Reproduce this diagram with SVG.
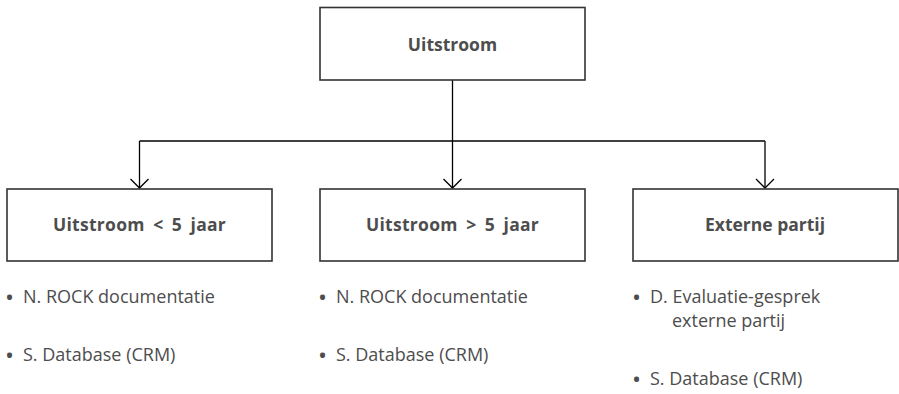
<svg xmlns="http://www.w3.org/2000/svg" width="899" height="394" viewBox="0 0 899 394">
<defs>
<style>
.box{fill:#fff;stroke:#333;stroke-width:1.6}
.lbl{font-family:"Open Sans","Liberation Sans",sans-serif;font-weight:bold;font-size:17.5px;fill:#4d4d4d;text-anchor:middle}
.ws{word-spacing:3.5px;letter-spacing:0.3px}
.itm{font-family:"Open Sans","Liberation Sans",sans-serif;font-size:18px;fill:#4d4d4d}
.bul{font-size:24px}
.con{fill:none;stroke:#000;stroke-width:1.3}
</style>
<marker id="arr" markerWidth="20" markerHeight="20" refX="10" refY="10" orient="auto" markerUnits="userSpaceOnUse">
<path d="M1,1 L10,10 L1,19" fill="none" stroke="#000" stroke-width="1.3"/>
</marker>
</defs>
<rect width="899" height="394" fill="#fff"/>
<g id="connectors">
<path class="con" d="M452.5,80 V141"/>
<path class="con" d="M139.5,141 H765"/>
<path class="con" d="M139.5,141 V188" marker-end="url(#arr)"/>
<path class="con" d="M452.5,141 V188" marker-end="url(#arr)"/>
<path class="con" d="M765,141 V188" marker-end="url(#arr)"/>
</g>
<g id="n-uitstroom">
<rect class="box" x="320" y="7.5" width="265" height="72.5"/>
<text class="lbl" x="452.5" y="51">Uitstroom</text>
</g>
<g id="n-lt5">
<rect class="box" x="7" y="189" width="265" height="72"/>
<text class="lbl ws" x="139.5" y="231">Uitstroom &lt; 5 jaar</text>
</g>
<g id="n-gt5">
<rect class="box" x="320" y="189" width="265" height="72"/>
<text class="lbl ws" x="452.5" y="231">Uitstroom &gt; 5 jaar</text>
</g>
<g id="n-extern">
<rect class="box" x="633" y="189" width="265" height="72"/>
<text class="lbl" x="765" y="231">Externe partij</text>
</g>
<g id="list-lt5">
<text class="itm" x="5" y="306"><tspan class="bul">•</tspan><tspan x="23" dy="-3">N. ROCK documentatie</tspan></text>
<text class="itm" x="5" y="364"><tspan class="bul">•</tspan><tspan x="23" dy="-3">S. Database (CRM)</tspan></text>
</g>
<g id="list-gt5">
<text class="itm" x="318" y="306"><tspan class="bul">•</tspan><tspan x="336" dy="-3">N. ROCK documentatie</tspan></text>
<text class="itm" x="318" y="364"><tspan class="bul">•</tspan><tspan x="336" dy="-3">S. Database (CRM)</tspan></text>
</g>
<g id="list-extern">
<text class="itm" x="632" y="306"><tspan class="bul">•</tspan><tspan x="650" dy="-3">D. Evaluatie-gesprek</tspan></text>
<text class="itm" x="672" y="327">externe partij</text>
<text class="itm" x="632" y="388"><tspan class="bul">•</tspan><tspan x="650" dy="-3">S. Database (CRM)</tspan></text>
</g>
</svg>
